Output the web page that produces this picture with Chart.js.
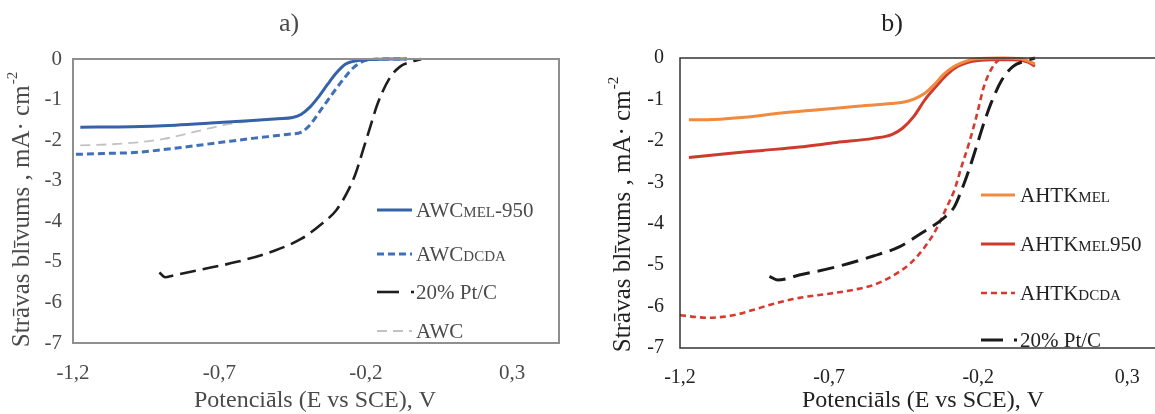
<!DOCTYPE html>
<html><head><meta charset="utf-8">
<script src="https://cdn.jsdelivr.net/npm/chart.js@4.4.1/dist/chart.umd.min.js"></script>
<style>
html,body{margin:0;padding:0;overflow:hidden;background:#fff;width:1155px;height:414px;position:relative}
#ca{position:absolute;left:0;top:0;filter:blur(0.45px)}
#cb{position:absolute;left:580px;top:0}
</style></head><body>
<canvas id="ca" width="580" height="414"></canvas>
<canvas id="cb" width="620" height="414"></canvas>
<script>
// ---------- shared ticks ----------
const xTickValues = [-1.2, -0.7, -0.2, 0.3];
const yTickValues = [0, -1, -2, -3, -4, -5, -6, -7];

// ---------- panel a) ----------
const aMel950X = [-1.175,-1.0,-0.85,-0.73,-0.6,-0.5,-0.45,-0.42,-0.39,-0.36,-0.33,-0.30,-0.27,-0.25,-0.22,-0.18,-0.12,-0.06];
const aMel950Y = [-1.68,-1.67,-1.63,-1.58,-1.52,-1.47,-1.44,-1.36,-1.18,-0.92,-0.62,-0.34,-0.13,-0.07,-0.03,-0.01,0,0];
const aDcdaX = [-1.19,-1.1,-0.98,-0.83,-0.70,-0.58,-0.47,-0.42,-0.39,-0.36,-0.33,-0.30,-0.27,-0.24,-0.21,-0.18,-0.12,-0.06];
const aDcdaY = [-2.35,-2.33,-2.30,-2.18,-2.06,-1.95,-1.86,-1.80,-1.62,-1.32,-1.02,-0.72,-0.44,-0.20,-0.06,-0.01,0,0];
const aPtX = [-0.905,-0.885,-0.86,-0.77,-0.64,-0.51,-0.42,-0.35,-0.30,-0.26,-0.235,-0.21,-0.185,-0.16,-0.12,-0.085,-0.045,-0.01];
const aPtY = [-5.26,-5.38,-5.34,-5.20,-5.00,-4.72,-4.43,-4.06,-3.72,-3.24,-2.83,-2.26,-1.68,-1.11,-0.49,-0.20,-0.07,0];
const aAwcX = [-1.175,-1.02,-0.89,-0.77,-0.68,-0.58,-0.5,-0.45,-0.42,-0.39,-0.36,-0.33,-0.30,-0.27,-0.24,-0.20,-0.12];
const aAwcY = [-2.13,-2.08,-1.97,-1.77,-1.62,-1.52,-1.47,-1.44,-1.36,-1.18,-0.92,-0.62,-0.34,-0.13,-0.05,-0.01,0];

// ---------- panel b) ----------
const bMelX = [-1.17,-1.107,-0.984,-0.86,-0.737,-0.614,-0.49,-0.453,-0.416,-0.379,-0.348,-0.317,-0.28,-0.243,-0.206,-0.12,-0.058,-0.01];
const bMelY = [-1.49,-1.49,-1.43,-1.33,-1.25,-1.17,-1.10,-1.07,-0.99,-0.85,-0.65,-0.40,-0.20,-0.08,-0.02,0,-0.02,-0.14];
const bMel950X = [-1.17,-1.046,-0.922,-0.80,-0.675,-0.552,-0.49,-0.453,-0.416,-0.379,-0.342,-0.305,-0.268,-0.219,-0.157,-0.083,-0.033,-0.01];
const bMel950Y = [-2.40,-2.31,-2.23,-2.15,-2.04,-1.94,-1.85,-1.69,-1.41,-1.01,-0.69,-0.40,-0.20,-0.08,-0.04,-0.04,-0.10,-0.20];
const bDcdaX = [-1.2,-1.107,-1.021,-0.959,-0.885,-0.80,-0.70,-0.614,-0.552,-0.49,-0.428,-0.379,-0.342,-0.305,-0.28,-0.256,-0.231,-0.206,-0.181,-0.157,-0.132,-0.11];
const bDcdaY = [-6.21,-6.27,-6.21,-6.09,-5.93,-5.79,-5.69,-5.59,-5.48,-5.27,-4.96,-4.56,-4.15,-3.59,-3.19,-2.62,-2.06,-1.41,-0.69,-0.28,-0.05,0];
const bPtX = [-0.90,-0.873,-0.80,-0.675,-0.552,-0.465,-0.391,-0.317,-0.28,-0.256,-0.231,-0.206,-0.181,-0.157,-0.12,-0.083,-0.046,-0.01];
const bPtY = [-5.27,-5.36,-5.24,-5.04,-4.78,-4.56,-4.23,-3.87,-3.59,-3.19,-2.70,-2.14,-1.57,-1.09,-0.52,-0.20,-0.08,0];

const xTitle = 'Potenciāls (E vs SCE), V';
const yTitleMain = 'Strāvas blīvums , mA· cm';
const yTitleSup = '-2';

function pts(xs, ys) { return xs.map((x, i) => ({ x: x, y: ys[i] })); }
const FONT = '"Liberation Serif", "Times New Roman", serif';

// decoration plugin: box, titles, legend
const decor = {
  id: 'decor',
  afterDatasetsDraw(chart, args, o) {
    const ctx = chart.ctx, a = chart.chartArea;
    ctx.save();
    ctx.strokeStyle = o.boxColor; ctx.lineWidth = o.boxWidth;
    ctx.strokeRect(a.left, a.top, a.right - a.left, a.bottom - a.top);
    ctx.fillStyle = o.textColor;
    ctx.textAlign = 'center'; ctx.textBaseline = 'middle';
    ctx.font = '26px ' + FONT;
    ctx.fillText(o.title, o.titleX, o.titleY);
    ctx.font = '24px ' + FONT;
    ctx.fillText(xTitle, o.xTitleX, o.xTitleY);
    // y title rotated
    ctx.save();
    ctx.translate(o.yTitleX, o.yTitleY);
    ctx.rotate(-Math.PI / 2);
    ctx.font = '25px ' + FONT;
    const w1 = ctx.measureText(yTitleMain).width;
    ctx.font = '15px ' + FONT;
    const w2 = ctx.measureText(yTitleSup).width;
    const start = -(w1 + w2) / 2;
    ctx.textAlign = 'left';
    ctx.font = '25px ' + FONT;
    ctx.fillText(yTitleMain, start, 0);
    ctx.font = '15px ' + FONT;
    ctx.fillText(yTitleSup, start + w1 + 1, -9);
    ctx.restore();
    // legend
    o.legend.forEach(item => {
      const y = item.y;
      ctx.strokeStyle = item.color; ctx.lineWidth = item.width;
      ctx.setLineDash(item.dash);
      ctx.beginPath(); ctx.moveTo(o.legX0, y); ctx.lineTo(o.legX1, y); ctx.stroke();
      ctx.setLineDash([]);
      if (item.dot) {
        ctx.beginPath(); ctx.moveTo(o.legDot, y); ctx.lineTo(o.legDot + 3, y); ctx.stroke();
      }
      let x = o.legTextX;
      ctx.fillStyle = o.legendText; ctx.textAlign = 'left'; ctx.textBaseline = 'alphabetic';
      item.parts.forEach(p => {
        const size = p[1] ? Math.round(o.legFont * 0.72) : o.legFont;
        ctx.font = size + 'px ' + FONT;
        ctx.fillText(p[0], x, y + o.legFont * 0.35);
        x += ctx.measureText(p[0]).width;
      });
    });
    ctx.restore();
  }
};

function makeOptions(p) {
  return {
    responsive: false, animation: false, events: [],
    layout: { padding: { left: 0, top: p.top, right: p.right, bottom: 0 } },
    plugins: { legend: { display: false }, tooltip: { enabled: false }, decor: p.decor },
    scales: {
      x: {
        type: 'linear', min: -1.2, max: p.xMax,
        grid: { display: false, drawTicks: false }, border: { display: false },
        afterBuildTicks: s => { s.ticks = xTickValues.map(v => ({ value: v })); },
        afterFit: s => { s.height = p.xAxisH; },
        ticks: { padding: p.xPad, color: p.tickColor, font: { family: FONT, size: p.tickSize }, maxRotation: 0,
          callback: v => v.toFixed(1).replace('.', ',') }
      },
      y: {
        type: 'linear', min: -7, max: 0,
        grid: { display: false, drawTicks: false }, border: { display: false },
        afterBuildTicks: s => { s.ticks = yTickValues.map(v => ({ value: v })); },
        afterFit: s => { s.width = p.yAxisW; },
        ticks: { padding: p.yPad, color: p.tickColor, font: { family: FONT, size: p.tickSize },
          callback: v => String(v) }
      }
    }
  };
}

function ds(xs, ys, color, dash, width, order) {
  return { data: pts(xs, ys), borderColor: color, borderDash: dash, borderWidth: width,
    pointRadius: 0, fill: false, cubicInterpolationMode: 'monotone', clip: false, order: order };
}

// Panel a
new Chart(document.getElementById('ca'), {
  type: 'line',
  data: { datasets: [
    ds(aMel950X, aMel950Y, '#3563a6', [], 3, 1),
    ds(aDcdaX, aDcdaY, '#3f70b8', [7, 4], 3, 2),
    ds(aPtX, aPtY, '#1e1e1e', [16, 7], 2.6, 3),
    ds(aAwcX, aAwcY, '#c2c2c2', [10, 6], 1.8, 4)
  ] },
  options: makeOptions({
    top: 59, right: 21, xMax: 0.46, xAxisH: 71, yAxisW: 73, xPad: 18, yPad: 11, tickColor: '#4a4a4a', tickSize: 21,
    decor: {
      boxColor: '#8f8f8f', boxWidth: 2, textColor: '#4a4a4a',
      title: 'a)', titleX: 289, titleY: 24,
      xTitleX: 315, xTitleY: 401, yTitleX: 22, yTitleY: 210,
      legX0: 377, legX1: 412, legDot: 411, legTextX: 416, legFont: 21, legendText: '#4a4a4a',
      legend: [
        { y: 210, color: '#3563a6', dash: [], width: 3, parts: [['AWC', 0], ['MEL', 1], ['-950', 0]] },
        { y: 254, color: '#3f70b8', dash: [7, 4], width: 3, parts: [['AWC', 0], ['DCDA', 1]] },
        { y: 292, color: '#1e1e1e', dash: [22, 40], width: 2.6, dot: true, parts: [['20% Pt/C', 0]] },
        { y: 331, color: '#c2c2c2', dash: [10, 6], width: 1.8, parts: [['AWC', 0]] }
      ]
    }
  }),
  plugins: [decor]
});

// Panel b
new Chart(document.getElementById('cb'), {
  type: 'line',
  data: { datasets: [
    ds(bMelX, bMelY, '#f08a3e', [], 3, 2),
    ds(bMel950X, bMel950Y, '#d03a2c', [], 3, 3),
    ds(bDcdaX, bDcdaY, '#d8392e', [6, 4], 2.6, 4),
    ds(bPtX, bPtY, '#1a1a1a', [17, 8], 3, 1)
  ] },
  options: makeOptions({
    top: 58, right: 13, xMax: 0.5, xAxisH: 66, yAxisW: 100, xPad: 18, yPad: 16, tickColor: '#222', tickSize: 20,
    decor: {
      boxColor: '#333', boxWidth: 1.5, textColor: '#222',
      title: 'b)', titleX: 312, titleY: 24,
      xTitleX: 343, xTitleY: 401, yTitleX: 43, yTitleY: 215,
      legX0: 401, legX1: 435, legDot: 434, legTextX: 440, legFont: 21, legendText: '#222',
      legend: [
        { y: 195, color: '#f08a3e', dash: [], width: 3, parts: [['AHTK', 0], ['MEL', 1]] },
        { y: 244, color: '#d03a2c', dash: [], width: 3, parts: [['AHTK', 0], ['MEL', 1], ['950', 0]] },
        { y: 293, color: '#d8392e', dash: [6, 4], width: 2.6, parts: [['AHTK', 0], ['DCDA', 1]] },
        { y: 340, color: '#1a1a1a', dash: [22, 40], width: 3, dot: true, parts: [['20% Pt/C', 0]] }
      ]
    }
  }),
  plugins: [decor]
});
</script>
</body></html>
